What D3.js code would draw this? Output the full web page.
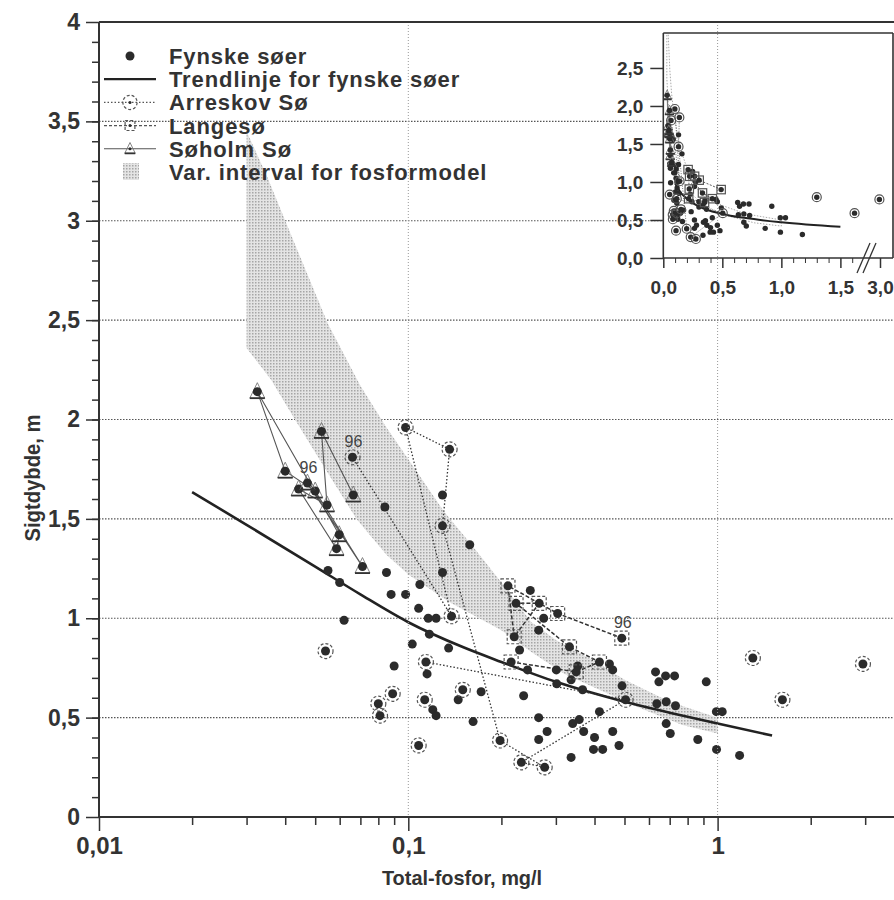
<!DOCTYPE html>
<html lang="da">
<head>
<meta charset="utf-8">
<title>Sigtdybde og total-fosfor i fynske søer</title>
<script src="https://cdn.jsdelivr.net/npm/d3@7/dist/d3.min.js"></script>
<style>
  html, body { margin: 0; padding: 0; background: #ffffff; }
  svg { display: block; }
  text { font-family: "Liberation Sans", Arial, Helvetica, sans-serif; }
</style>
</head>
<body>
<svg id="chart" width="894" height="900"></svg>
<script>
// ---------- tick labels ----------
const yTickValues = [0, 0.5, 1, 1.5, 2, 2.5, 3, 3.5, 4];
const yTickLabels = ["0", "0,5", "1", "1,5", "2", "2,5", "3", "3,5", "4"];
const xTickValues = [0.01, 0.1, 1];
const xTickLabels = ["0,01", "0,1", "1"];
const insetYTickValues = [0, 0.5, 1, 1.5, 2, 2.5];
const insetYTickLabels = ["0,0", "0,5", "1,0", "1,5", "2,0", "2,5"];
const insetXTickValues = [0, 0.5, 1, 1.5, 3];
const insetXTickLabels = ["0,0", "0,5", "1,0", "1,5", "3,0"];

const legendLabels = ["Fynske søer", "Trendlinje for fynske søer", "Arreskov Sø", "Langesø", "Søholm Sø", "Var. interval for fosformodel"];
const xTitle = "Total-fosfor, mg/l";
const yTitle = "Sigtdybde, m";
const lastYearLabel = "96";

// ---------- Fynske søer: total-P (mg/l) and Secchi depth (m) ----------
const fynTP = [0.084, 0.129, 0.158, 0.055, 0.060, 0.085, 0.129, 0.088, 0.098, 0.109, 0.108, 0.116, 0.123, 0.062,
               0.248, 0.274, 0.264, 0.229, 0.243, 0.301, 0.336, 0.353, 0.447, 0.458, 0.491, 0.302, 0.366, 0.145,
               0.172, 0.236, 0.162, 0.264, 0.281, 0.264, 0.340, 0.357, 0.369, 0.400, 0.415, 0.458, 0.397, 0.425,
               0.480, 0.336, 0.630, 0.646, 0.679, 0.726, 0.919, 0.636, 0.682, 0.731, 0.682, 0.703, 0.863, 0.991,
               1.035, 0.992, 1.178, 0.117, 0.103, 0.135, 0.090, 0.115, 0.120, 0.123];
const fynSD = [1.56, 1.62, 1.37, 1.24, 1.18, 1.23, 1.23, 1.12, 1.12, 1.17, 1.05, 1.00, 1.00, 0.99,
               1.14, 1.00, 0.94, 0.84, 0.74, 0.74, 0.69, 0.76, 0.77, 0.74, 0.66, 0.67, 0.64, 0.59,
               0.63, 0.61, 0.48, 0.50, 0.43, 0.39, 0.47, 0.49, 0.43, 0.40, 0.53, 0.43, 0.34, 0.34,
               0.36, 0.30, 0.73, 0.68, 0.71, 0.71, 0.68, 0.57, 0.58, 0.56, 0.47, 0.42, 0.39, 0.53,
               0.53, 0.34, 0.31, 0.92, 0.87, 0.85, 0.76, 0.72, 0.54, 0.51];

// ---------- trend line for the Funen lakes ----------
const trendTP = [0.02, 0.03, 0.05, 0.07, 0.1, 0.15, 0.2, 0.3, 0.5, 0.7, 1.0, 1.5];
const trendSD = [1.635, 1.47, 1.26, 1.12, 0.98, 0.855, 0.78, 0.68, 0.58, 0.525, 0.47, 0.41];

// ---------- Arreskov Sø (yearly values, null = break in the series) ----------
const arreskovTP = [0.114, 0.504, 0.232, 0.276, 0.198, 0.129, 0.136, 0.098, 0.138, 0.066,
                    null, 0.054, null, 0.089, null, 0.080, null, 0.081, null, 0.108,
                    null, 0.113, null, 0.150, null, 1.30, null, 1.62, null, 2.95];
const arreskovSD = [0.78, 0.59, 0.275, 0.25, 0.385, 1.465, 1.85, 1.96, 1.01, 1.81,
                    null, 0.835, null, 0.62, null, 0.57, null, 0.51, null, 0.36,
                    null, 0.59, null, 0.64, null, 0.80, null, 0.59, null, 0.77];

// ---------- Langesø ----------
const langTP = [0.215, 0.349, 0.415, 0.332, 0.223, 0.265, 0.220, 0.210, 0.304, 0.49];
const langSD = [0.78, 0.73, 0.78, 0.856, 1.075, 1.075, 0.907, 1.163, 1.024, 0.90];

// ---------- Søholm Sø ----------
const soholmTP = [0.0664, 0.0524, 0.0546, 0.0442, 0.0586, 0.0598, 0.0325, 0.0400, 0.0500, 0.0711, 0.0472];
const soholmSD = [1.62, 1.94, 1.57, 1.65, 1.35, 1.42, 2.14, 1.74, 1.64, 1.26, 1.68];

// ---------- variation interval of the phosphorus model ----------
const bandUpperTP = [0.03, 0.035, 0.04, 0.055, 0.07, 0.085, 0.1, 0.13, 0.16, 0.2, 0.25, 0.3, 0.4, 0.5, 0.7, 1.0];
const bandUpperSD = [3.45, 3.22, 3.0, 2.48, 2.17, 1.96, 1.8, 1.54, 1.37, 1.18, 0.98, 0.89, 0.785, 0.69, 0.58, 0.50];
const bandLowerTP = [0.03, 0.036, 0.043, 0.055, 0.068, 0.085, 0.1, 0.136, 0.2, 0.25, 0.32, 0.415, 0.55, 0.77, 1.0];
const bandLowerSD = [2.36, 2.2, 2.0, 1.73, 1.5, 1.32, 1.22, 1.08, 0.94, 0.83, 0.72, 0.64, 0.553, 0.463, 0.42];

// ======================================================================
const zip = (a, b) => a.map((v, i) => [v, b[i]]);
const INK = "#2b2b2b";
const AXIS = "#333";

const svg = d3.select("#chart");

// main scales: log total-P, linear Secchi depth
const x = d3.scaleLog().domain([0.01, 10]).range([99, 99 + 3 * 309.3]);
const y = d3.scaleLinear().domain([0, 4]).range([817, 22]);

// inset scales: linear total-P with a break between 1,7 and 3,0
const ix = d3.scaleLinear().domain([0, 1.7, 3.0]).range([663.3, 864, 880]);
const iy = d3.scaleLinear().domain([0, 2.96]).range([258, 33]);

const defs = svg.append("defs");
const pat = defs.append("pattern").attr("id", "stipple")
  .attr("patternUnits", "userSpaceOnUse").attr("width", 3).attr("height", 3);
pat.append("rect").attr("width", 3).attr("height", 3).attr("fill", "#e4e4e4");
pat.append("rect").attr("width", 1.5).attr("height", 1.5).attr("fill", "#a6a6a6");
defs.append("clipPath").attr("id", "insetClip").append("rect")
  .attr("x", 663.3).attr("y", 33).attr("width", 230).attr("height", 225);

// ---------- horizontal grid ----------
const gGrid = svg.append("g");
gGrid.selectAll("line").data(yTickValues.filter(v => v > 0 && v < 4)).join("line")
  .attr("x1", 99).attr("x2", 894)
  .attr("y1", d => y(d)).attr("y2", d => y(d))
  .attr("stroke", "#555").attr("stroke-width", 1.2).attr("stroke-dasharray", "1.5 1.5");

// ---------- model interval band ----------
const bandPts = zip(bandUpperTP, bandUpperSD).concat(zip(bandLowerTP, bandLowerSD).reverse());
const polyLine = (sx, sy) => d3.line().x(d => sx(d[0])).y(d => sy(d[1])).curve(d3.curveLinearClosed);
svg.append("path").attr("d", polyLine(x, y)(bandPts)).attr("fill", "url(#stipple)").attr("stroke", "none");

// ---------- trend line ----------
const smooth = (sx, sy) => d3.line().defined(d => d[0] != null).x(d => sx(d[0])).y(d => sy(d[1])).curve(d3.curveMonotoneX);
const straight = (sx, sy) => d3.line().defined(d => d[0] != null).x(d => sx(d[0])).y(d => sy(d[1]));
svg.append("path").attr("d", smooth(x, y)(zip(trendTP, trendSD)))
  .attr("fill", "none").attr("stroke", "#222").attr("stroke-width", 2.6);

// ---------- markers ----------
function dot(g, px, py, r) {
  g.append("circle").attr("cx", px).attr("cy", py).attr("r", r).attr("fill", INK);
}
function ring(g, px, py, s, dashed) {
  g.append("circle").attr("cx", px).attr("cy", py).attr("r", 7.5 * s)
    .attr("fill", "none").attr("stroke", "#555").attr("stroke-width", 1.2)
    .attr("stroke-dasharray", dashed ? "3 2" : null);
}
function square(g, px, py, s, dashed) {
  const h = 7 * s;
  g.append("rect").attr("x", px - h).attr("y", py - h).attr("width", 2 * h).attr("height", 2 * h)
    .attr("fill", "none").attr("stroke", "#555").attr("stroke-width", 1.2)
    .attr("stroke-dasharray", dashed ? "3 2" : null);
}
function tri(g, px, py, s) {
  g.append("path").attr("d", `M${px},${py - 9 * s}L${px - 7.5 * s},${py + 6.5 * s}L${px + 7.5 * s},${py + 6.5 * s}Z`)
    .attr("fill", "none").attr("stroke", "#777").attr("stroke-width", 0.9);
  g.append("line").attr("x1", px - 7.5 * s).attr("x2", px + 7.5 * s)
    .attr("y1", py + 6.5 * s).attr("y2", py + 6.5 * s)
    .attr("stroke", "#333").attr("stroke-width", 1.8);
}

function drawSeries(g, sx, sy, s, r, withLabels) {
  const full = s >= 1;
  // connecting lines of the three lakes
  g.append("path").attr("d", straight(sx, sy)(zip(soholmTP, soholmSD)))
    .attr("fill", "none").attr("stroke", "#555").attr("stroke-width", full ? 1.1 : 0.6);
  g.append("path").attr("d", straight(sx, sy)(zip(arreskovTP, arreskovSD)))
    .attr("fill", "none").attr("stroke", "#333").attr("stroke-width", full ? 1.3 : 0.7)
    .attr("stroke-dasharray", full ? "1.5 2" : "1 1.5");
  g.append("path").attr("d", straight(sx, sy)(zip(langTP, langSD)))
    .attr("fill", "none").attr("stroke", "#333").attr("stroke-width", full ? 1.5 : 0.8)
    .attr("stroke-dasharray", full ? "4 2" : "2 1.5");

  zip(fynTP, fynSD).forEach(([t, v]) => dot(g, sx(t), sy(v), r));
  zip(arreskovTP, arreskovSD).filter(d => d[0] != null).forEach(([t, v]) => {
    ring(g, sx(t), sy(v), s, full); dot(g, sx(t), sy(v), r);
  });
  zip(langTP, langSD).forEach(([t, v]) => { square(g, sx(t), sy(v), s, full); dot(g, sx(t), sy(v), r); });
  zip(soholmTP, soholmSD).forEach(([t, v]) => { tri(g, sx(t), sy(v), s); dot(g, sx(t), sy(v), r); });

  if (withLabels) {
    const ends = [
      [soholmTP[soholmTP.length - 1], soholmSD[soholmSD.length - 1]],
      [arreskovTP[9], arreskovSD[9]],
      [langTP[langTP.length - 1], langSD[langSD.length - 1]]
    ];
    g.selectAll("text.yr").data(ends).join("text").attr("class", "yr")
      .attr("x", d => sx(d[0]) + 1).attr("y", d => sy(d[1]) - 10)
      .attr("text-anchor", "middle").attr("font-size", 16).attr("fill", "#444")
      .text(lastYearLabel);
  }
}

drawSeries(svg.append("g"), x, y, 1, 4.5, true);

// ---------- legend ----------
const leg = svg.append("g");
const rowY = legendLabels.map((_, i) => 56 + i * 23.2);
leg.selectAll("text").data(legendLabels).join("text")
  .attr("x", 169).attr("y", (d, i) => rowY[i] + 8)
  .attr("font-size", 22).attr("font-weight", "bold").attr("letter-spacing", 0.9)
  .attr("fill", "#333").text(d => d);
dot(leg, 130, rowY[0], 4.5);
leg.append("line").attr("x1", 104).attr("x2", 156).attr("y1", rowY[1]).attr("y2", rowY[1])
  .attr("stroke", "#222").attr("stroke-width", 2.2);
leg.append("line").attr("x1", 104).attr("x2", 156).attr("y1", rowY[2]).attr("y2", rowY[2])
  .attr("stroke", "#555").attr("stroke-width", 1.1).attr("stroke-dasharray", "1.5 2");
ring(leg, 130, rowY[2], 0.95, true); dot(leg, 130, rowY[2], 1.5);
leg.append("line").attr("x1", 104).attr("x2", 156).attr("y1", rowY[3]).attr("y2", rowY[3])
  .attr("stroke", "#555").attr("stroke-width", 1.2).attr("stroke-dasharray", "3 2");
square(leg, 130, rowY[3], 0.7, true); dot(leg, 130, rowY[3], 1.5);
leg.append("line").attr("x1", 104).attr("x2", 156).attr("y1", rowY[4]).attr("y2", rowY[4])
  .attr("stroke", "#555").attr("stroke-width", 1.1);
tri(leg, 130, rowY[4], 0.7); dot(leg, 130, rowY[4], 1.5);
leg.append("rect").attr("x", 123).attr("y", rowY[5] - 9).attr("width", 16).attr("height", 17)
  .attr("fill", "url(#stipple)");

// ---------- inset (linear total-P) ----------
svg.append("rect").attr("x", 663.3).attr("y", 33).attr("width", 230).attr("height", 225).attr("fill", "#fff");

// vertical grid (drawn over the inset background, it shows through there)
svg.append("g").selectAll("line").data(xTickValues.slice(1)).join("line")
  .attr("x1", d => x(d)).attr("x2", d => x(d)).attr("y1", 22).attr("y2", 817)
  .attr("stroke", "#999").attr("stroke-width", 1).attr("stroke-dasharray", "1 2");

const inset = svg.append("g").attr("clip-path", "url(#insetClip)");
inset.append("path").attr("d", polyLine(ix, iy)(bandPts))
  .attr("fill", "none").attr("stroke", "#aaa").attr("stroke-width", 1).attr("stroke-dasharray", "1.5 1.5");
inset.append("path").attr("d", smooth(ix, iy)(zip(trendTP, trendSD).filter(d => d[0] >= 0.1)))
  .attr("fill", "none").attr("stroke", "#222").attr("stroke-width", 2);
drawSeries(inset.append("g"), ix, iy, 0.6, 2.7, false);

// inset frame
const frame = svg.append("g").attr("stroke", AXIS).attr("stroke-width", 1.6);
frame.append("line").attr("x1", 663.3).attr("x2", 893).attr("y1", 33).attr("y2", 33);
frame.append("line").attr("x1", 893).attr("x2", 893).attr("y1", 33).attr("y2", 258);
frame.append("line").attr("x1", 663.3).attr("x2", 663.3).attr("y1", 33).attr("y2", 258);
frame.append("line").attr("x1", 663.3).attr("x2", 893).attr("y1", 258).attr("y2", 258);

// inset axes
function styleAxis(g, size) {
  g.select(".domain").remove();
  g.selectAll(".tick line").attr("stroke", AXIS).attr("stroke-width", 1.5);
  g.selectAll(".tick text").attr("fill", "#333").attr("font-size", size).attr("font-weight", "bold")
    .attr("font-family", "'Liberation Sans', Arial, sans-serif");
}
svg.append("g").attr("transform", "translate(663.3,0)")
  .call(d3.axisLeft(iy).tickValues(insetYTickValues).tickSize(13).tickPadding(7)
    .tickFormat((d, i) => insetYTickLabels[i]))
  .call(g => styleAxis(g, 19));
svg.append("g").attr("transform", "translate(0,258)")
  .call(d3.axisBottom(ix).tickValues(insetXTickValues).tickSize(10)
    .tickFormat((d, i) => insetXTickLabels[i]))
  .call(g => styleAxis(g, 19))
  .call(g => g.selectAll(".tick text").attr("y", 36).attr("dy", null));
svg.append("g").attr("transform", "translate(0,258)")
  .call(d3.axisBottom(ix).tickValues(d3.range(1, 17).map(i => i / 10).filter(v => v % 0.5 !== 0)).tickSize(5).tickFormat(""))
  .call(g => styleAxis(g, 19))
  .call(g => g.selectAll(".tick line").attr("stroke-width", 1));
// axis break marks
const brk = svg.append("g").attr("stroke", AXIS).attr("stroke-width", 1.3);
[0, 6].forEach(dx => brk.append("line")
  .attr("x1", 857 + dx).attr("y1", 273).attr("x2", 870 + dx).attr("y2", 243));

// ---------- main axes ----------
const axes = svg.append("g").attr("stroke", AXIS).attr("stroke-width", 2);
axes.append("line").attr("x1", 99).attr("x2", 99).attr("y1", 22).attr("y2", 817);
axes.append("line").attr("x1", 99).attr("x2", 894).attr("y1", 817).attr("y2", 817);
axes.append("line").attr("x1", 99).attr("x2", 894).attr("y1", 22).attr("y2", 22);

svg.append("g").attr("transform", "translate(99,0)")
  .call(d3.axisLeft(y).tickValues(d3.range(1, 40).map(i => i / 10)).tickSize(7).tickFormat(""))
  .call(g => styleAxis(g, 10));
svg.append("g").attr("transform", "translate(99,0)")
  .call(d3.axisLeft(y).tickValues(yTickValues).tickSize(13).tickPadding(6)
    .tickFormat((d, i) => yTickLabels[i]))
  .call(g => styleAxis(g, 23));

const minorX = [];
[0.01, 0.1, 1].forEach(dec => d3.range(2, 10).forEach(k => minorX.push(dec * k)));
svg.append("g").attr("transform", "translate(0,817)")
  .call(d3.axisBottom(x).tickValues(minorX.filter(v => x(v) < 894)).tickSize(8).tickFormat(""))
  .call(g => styleAxis(g, 10));
svg.append("g").attr("transform", "translate(0,817)")
  .call(d3.axisBottom(x).tickValues(xTickValues).tickSize(14).tickFormat((d, i) => xTickLabels[i]))
  .call(g => styleAxis(g, 24))
  .call(g => g.selectAll(".tick text").attr("y", 37).attr("dy", null)
    .attr("font-family", "'Liberation Serif', 'Times New Roman', serif"));

// ---------- axis titles ----------
svg.append("text").attr("transform", "translate(462,885) scale(0.95,1)")
  .attr("text-anchor", "middle").attr("font-size", 21).attr("font-weight", "bold").attr("fill", "#333")
  .text(xTitle);
svg.append("text").attr("transform", "translate(40,478) rotate(-90) scale(0.92,1)")
  .attr("text-anchor", "middle").attr("font-size", 22).attr("font-weight", "bold").attr("fill", "#333")
  .text(yTitle);
</script>
</body>
</html>
